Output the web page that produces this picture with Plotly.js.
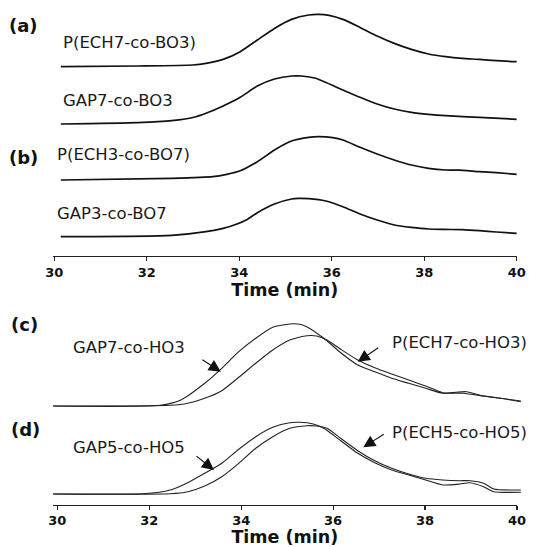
<!DOCTYPE html>
<html>
<head>
<meta charset="utf-8">
<script src="https://cdn.plot.ly/plotly-3.0.1.min.js"></script>
<style>
  html, body { margin: 0; padding: 0; background: #fff; }
  #chart { width: 536px; height: 547px; }
</style>
</head>
<body>
<div id="chart"></div>
<script>
// GPC elution traces (detector signal, arbitrary units) versus elution time (min)

// (a) P(ECH7-co-BO3)
const tA1 = [30.14, 31.80, 32.99, 33.28, 33.65, 34.02, 34.39, 34.76, 35.13, 35.50, 35.72, 35.94, 36.24, 36.61, 36.98, 37.35, 37.72, 38.09, 38.46, 38.82, 39.19, 39.56, 40.00];
const sA1 = [0, 0.7, 1.7, 3.3, 7.3, 15.0, 26.7, 38.3, 47.3, 51.7, 52.3, 51.3, 47.3, 39.3, 30.7, 23.3, 17.3, 12.7, 10.0, 8.3, 7.3, 6.0, 5.0];

// (a) GAP7-co-BO3
const tA2 = [30.14, 31.80, 32.54, 33.06, 33.28, 33.65, 34.02, 34.39, 34.76, 35.13, 35.35, 35.65, 36.24, 36.61, 36.98, 37.35, 37.72, 38.09, 38.46, 39.19, 40.00];
const sA2 = [0, 1.3, 3.3, 7.3, 10.7, 18.0, 26.7, 38.0, 45.0, 48.0, 48.0, 45.7, 34.0, 26.7, 20.0, 15.0, 11.7, 9.7, 8.3, 6.7, 4.7];

// (b) P(ECH3-co-BO7)
const tB1 = [30.14, 32.54, 33.43, 33.73, 34.02, 34.39, 34.76, 35.13, 35.50, 35.72, 36.02, 36.24, 36.61, 36.98, 37.35, 37.72, 38.09, 38.46, 38.75, 39.19, 39.56, 40.00];
const sB1 = [0, 1.7, 3.3, 5.7, 9.3, 18.3, 30.0, 39.0, 42.7, 43.3, 42.3, 40.0, 32.7, 26.0, 20.0, 15.0, 11.7, 10.0, 9.9, 8.3, 7.3, 5.7];

// (b) GAP3-co-BO7
const tB2 = [30.14, 32.54, 33.28, 33.65, 33.95, 34.17, 34.39, 34.76, 35.13, 35.28, 35.50, 35.87, 36.24, 36.61, 36.98, 37.35, 37.72, 38.09, 38.46, 38.82, 39.19, 39.56, 40.00];
const sB2 = [0, 1.3, 5.0, 8.3, 12.7, 17.3, 24.0, 32.7, 37.7, 38.3, 38.0, 35.7, 30.0, 22.7, 16.7, 11.7, 9.3, 7.7, 7.3, 7.0, 6.0, 4.7, 3.3];

// (c) GAP7-co-HO3
const tC1 = [29.91, 32.24, 32.69, 33.21, 33.58, 33.95, 34.32, 34.69, 35.06, 35.28, 35.43, 35.80, 36.17, 36.54, 36.91, 37.28, 37.65, 38.02, 38.39, 38.68, 38.91, 39.28, 39.65, 40.09];
const sC1 = [0, 0.7, 6.0, 22.7, 37.7, 54.3, 67.7, 78.7, 82.0, 81.7, 79.3, 67.7, 53.3, 41.0, 34.3, 27.7, 22.7, 17.7, 12.7, 13.7, 14.3, 10.0, 7.7, 4.3];

// (c) P(ECH7-co-HO3)
const tC2 = [29.91, 32.46, 32.84, 33.21, 33.58, 33.95, 34.32, 34.69, 35.06, 35.43, 35.65, 35.87, 36.17, 36.54, 36.91, 37.28, 37.65, 38.02, 38.39, 38.83, 39.28, 39.65, 40.09];
const sC2 = [0, 0.7, 2.7, 7.7, 15.3, 28.7, 42.7, 56.0, 66.0, 70.3, 70.0, 66.0, 56.7, 46.0, 38.3, 32.0, 26.0, 20.0, 13.3, 12.7, 10.0, 7.7, 5.0];

// (d) GAP5-co-HO5
const tD1 = [29.91, 31.87, 32.46, 32.84, 33.21, 33.58, 33.95, 34.32, 34.69, 35.06, 35.28, 35.57, 35.80, 36.17, 36.54, 36.91, 37.28, 37.65, 38.02, 38.39, 38.76, 38.98, 39.28, 39.50, 40.09];
const sD1 = [0, 0.3, 4.0, 11.3, 20.7, 30.7, 44.7, 57.3, 66.7, 71.3, 71.7, 70.0, 65.7, 53.3, 40.7, 31.3, 24.0, 19.0, 14.0, 9.0, 10.0, 11.3, 7.3, 2.3, 1.7];

// (d) P(ECH5-co-HO5)
const tD2 = [29.91, 32.46, 32.84, 33.21, 33.58, 33.95, 34.32, 34.69, 35.06, 35.43, 35.65, 35.87, 36.17, 36.54, 36.91, 37.28, 37.65, 38.02, 38.39, 38.76, 38.98, 39.28, 39.50, 40.09];
const sD2 = [0, 0.3, 2.3, 8.0, 17.3, 30.7, 45.7, 57.3, 65.7, 68.3, 68.0, 65.7, 55.7, 43.3, 33.3, 25.7, 20.0, 15.7, 14.0, 13.3, 13.3, 10.7, 5.0, 4.0];

const timeTicks = [30, 32, 34, 36, 38, 40];
const xTitle = 'Time (min)';

// Figure geometry (pixels)
const W = 536, H = 547;
const px = v => v / W;
const py = v => 1 - v / H;

// A stacked trace gets its own y axis; 1 signal unit = 1 px.
// base: pixel row of zero signal, top/bottom: pixel rows of the axis domain.
function stackAxis(base, top, bottom) {
  return {
    domain: [py(bottom), py(top)],
    range: [base - bottom, base - top],
    visible: false, fixedrange: true
  };
}

const darkLine = {color: '#111', width: 1.7, shape: 'spline', smoothing: 0.6};
const thinLine = {color: '#222', width: 1.1, shape: 'spline', smoothing: 0.6};

const traces = [
  {x: tA1, y: sA1, xaxis: 'x', yaxis: 'y', line: darkLine},
  {x: tA2, y: sA2, xaxis: 'x', yaxis: 'y2', line: darkLine},
  {x: tB1, y: sB1, xaxis: 'x', yaxis: 'y3', line: darkLine},
  {x: tB2, y: sB2, xaxis: 'x', yaxis: 'y4', line: darkLine},
  {x: tC1, y: sC1, xaxis: 'x3', yaxis: 'y5', line: thinLine},
  {x: tC2, y: sC2, xaxis: 'x3', yaxis: 'y5', line: thinLine},
  {x: tD1, y: sD1, xaxis: 'x3', yaxis: 'y6', line: thinLine},
  {x: tD2, y: sD2, xaxis: 'x3', yaxis: 'y6', line: thinLine},
  // empty trace so the lower time axis gets its own subplot
  {x: [], y: [], xaxis: 'x2', yaxis: 'y6', line: thinLine}
].map(t => Object.assign({type: 'scatter', mode: 'lines', hoverinfo: 'skip'}, t));

const tickFont = {family: 'DejaVu Sans', size: 13, color: '#111', weight: 'bold'};
const titleFont = {family: 'DejaVu Sans', size: 17.5, color: '#111', weight: 'bold'};

function timeAxis(domain, range, anchor) {
  return {
    domain: domain, range: range, anchor: anchor,
    tickmode: 'array', tickvals: timeTicks, ticktext: timeTicks.map(String),
    ticks: 'outside', ticklen: 4, tickwidth: 1.2, tickcolor: '#222',
    showline: true, linecolor: '#222', linewidth: 1.2,
    showgrid: false, zeroline: false,
    tickfont: tickFont,
    title: {text: xTitle, font: titleFont, standoff: 5},
    fixedrange: true
  };
}

const labelFont = {family: 'DejaVu Sans', size: 16.5, color: '#1a1a1a'};
const panelFont = {family: 'DejaVu Sans', size: 18, color: '#111', weight: 'bold'};

function label(text, left, mid, font) {
  return {text: text, x: px(left), y: py(mid), xref: 'paper', yref: 'paper',
          xanchor: 'left', yanchor: 'middle', showarrow: false, font: font || labelFont};
}
function pointer(x, y, yref, ax, ay) {
  return {x: x, y: y, xref: 'x3', yref: yref, text: '', showarrow: true,
          arrowhead: 2, arrowsize: 2.2, arrowwidth: 1.1, arrowcolor: '#111',
          ax: ax, ay: ay, standoff: 0};
}

const layout = {
  width: W, height: H,
  margin: {l: 0, r: 0, t: 0, b: 0},
  paper_bgcolor: '#fff', plot_bgcolor: 'rgba(0,0,0,0)',
  showlegend: false,
  xaxis: timeAxis([px(52.7), px(516.8)], [29.965, 40], 'y4'),
  xaxis2: timeAxis([px(52.7), px(517)], [29.9, 40], 'y6'),
  xaxis3: {domain: [px(52.7), px(524.5)], range: [29.9, 40.17], anchor: 'y6', visible: false, fixedrange: true},
  yaxis: stackAxis(66.7, 5, 70),
  yaxis2: stackAxis(124, 70, 130),
  yaxis3: stackAxis(180, 130, 190),
  yaxis4: stackAxis(236.7, 190, 256),
  yaxis5: stackAxis(406, 300, 412),
  yaxis6: stackAxis(494, 412, 504.5),
  annotations: [
    label('(a)', 7, 26, panelFont),
    label('P(ECH7-co-BO3)', 61, 42.5),
    label('GAP7-co-BO3', 61, 101),
    label('(b)', 7, 157, panelFont),
    label('P(ECH3-co-BO7)', 55, 155),
    label('GAP3-co-BO7', 55, 213),
    label('(c)', 9, 324, panelFont),
    label('GAP7-co-HO3', 71, 347),
    label('P(ECH7-co-HO3)', 390, 342),
    label('(d)', 9, 429, panelFont),
    label('GAP5-co-HO5', 71, 447),
    label('P(ECH5-co-HO5)', 390, 432),
    pointer(33.56, 34.3, 'y5', -20, -13),
    pointer(36.54, 44.3, 'y5', 22, -15),
    pointer(33.41, 24, 'y6', -19, -15),
    pointer(36.66, 46.7, 'y6', 22, -14)
  ]
};

Plotly.newPlot('chart', traces, layout, {staticPlot: true, displayModeBar: false});
</script>
</body>
</html>
